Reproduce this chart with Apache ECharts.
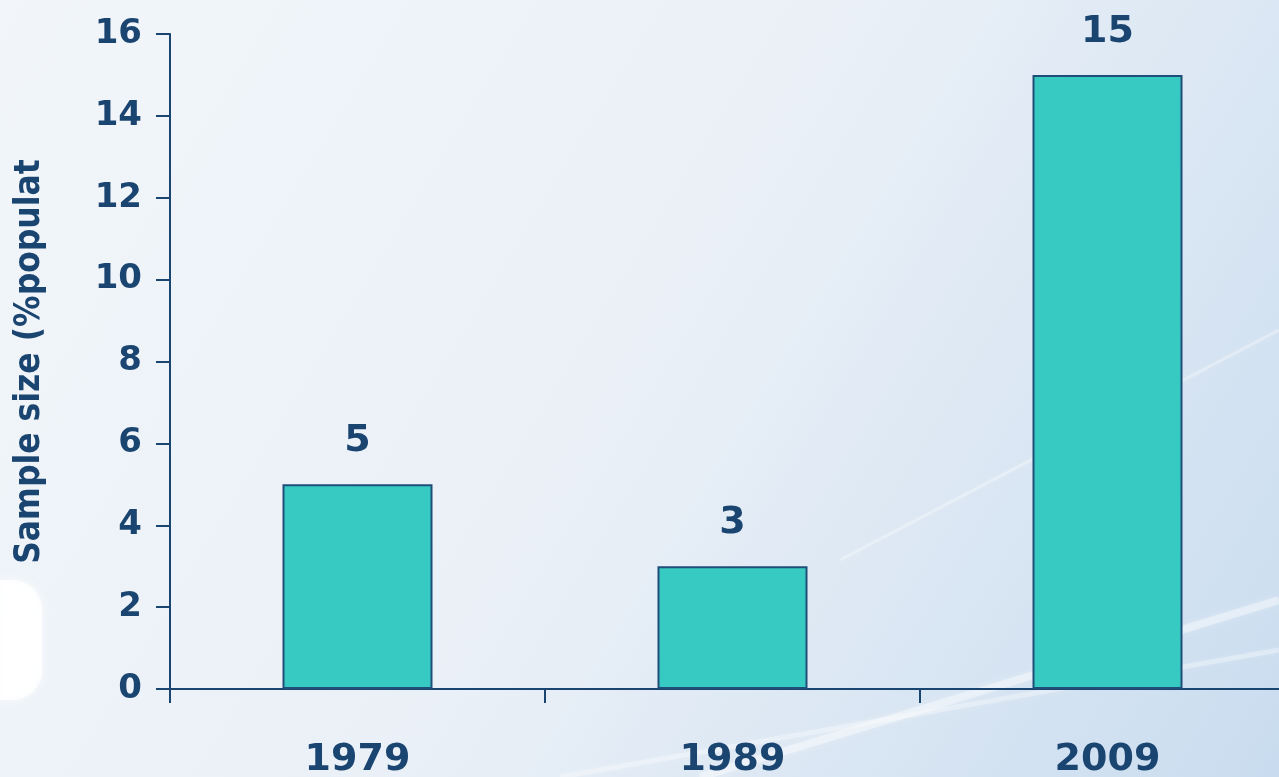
<!DOCTYPE html>
<html>
<head>
<meta charset="utf-8">
<script src="https://cdn.jsdelivr.net/npm/echarts@6/dist/echarts.min.js"></script>
<style>
html,body{margin:0;padding:0;}
#main{width:1279px;height:777px;}
</style>
</head>
<body>
<div id="main"></div>
<script>
var categories = ['1979', '1989', '2009'];
var sampleSize = [5, 3, 15];
var yTicks = { min: 0, max: 16, interval: 2 };
var yAxisTitle = 'Sample size (%populat';

var navy = '#1B4571';
var chart = echarts.init(document.getElementById('main'));
chart.setOption({
  backgroundColor: {
    type: 'linear', x: 0, y: 0, x2: 1, y2: 1,
    colorStops: [
      { offset: 0, color: '#f2f6fa' },
      { offset: 0.5, color: '#eaf0f7' },
      { offset: 1, color: '#c9dcef' }
    ]
  },
  graphic: [
    { type: 'line', silent: true, z: -1, shape: { x1: 700, y1: 777, x2: 1279, y2: 600 }, style: { stroke: 'rgba(255,255,255,0.4)', lineWidth: 8, shadowBlur: 8, shadowColor: 'rgba(255,255,255,0.6)' } },
    { type: 'line', silent: true, z: -1, shape: { x1: 560, y1: 777, x2: 1279, y2: 650 }, style: { stroke: 'rgba(255,255,255,0.3)', lineWidth: 5, shadowBlur: 6, shadowColor: 'rgba(255,255,255,0.6)' } },
    { type: 'line', silent: true, z: -1, shape: { x1: 840, y1: 560, x2: 1279, y2: 330 }, style: { stroke: 'rgba(255,255,255,0.3)', lineWidth: 3, shadowBlur: 6, shadowColor: 'rgba(255,255,255,0.6)' } },
    { type: 'rect', silent: true, z: -1, shape: { x: 0, y: 580, width: 42, height: 120, r: [0, 30, 30, 0] }, style: { fill: 'rgba(255,255,255,0.85)', shadowBlur: 12, shadowColor: 'rgba(255,255,255,0.9)' } }
  ],
  grid: { left: 170, top: 34, bottom: 88, right: -16, containLabel: false, outerBoundsMode: 'none' },
  xAxis: {
    type: 'category',
    data: categories,
    axisLine: { lineStyle: { color: navy, width: 2 } },
    axisTick: { show: true, length: 14, lineStyle: { color: navy, width: 2 } },
    axisLabel: { color: navy, fontFamily: 'DejaVu Sans', fontWeight: 'bold', fontSize: 38, margin: 52 }
  },
  yAxis: {
    type: 'value',
    min: yTicks.min, max: yTicks.max, interval: yTicks.interval,
    name: yAxisTitle,
    nameLocation: 'middle',
    nameRotate: 90,
    nameGap: 123,
    nameTextStyle: { color: navy, fontFamily: 'DejaVu Sans Condensed', fontWeight: 'bold', fontSize: 35 },
    axisLine: { show: true, lineStyle: { color: navy, width: 2 } },
    axisTick: { show: true, length: 14, lineStyle: { color: navy, width: 2 } },
    splitLine: { show: false },
    axisLabel: { color: navy, fontFamily: 'DejaVu Sans', fontWeight: 'bold', fontSize: 34, margin: 28 }
  },
  series: [{
    type: 'bar',
    data: sampleSize,
    barWidth: '40%',
    itemStyle: { color: '#36CAC2', borderColor: '#1F4E79', borderWidth: 2 },
    label: { show: true, position: 'top', distance: 24, color: navy, fontFamily: 'DejaVu Sans', fontWeight: 'bold', fontSize: 38 }
  }]
});
</script>
</body>
</html>
